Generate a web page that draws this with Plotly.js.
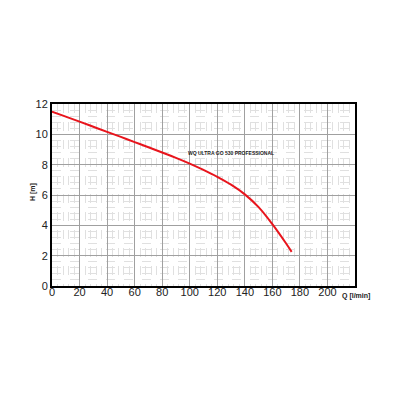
<!DOCTYPE html>
<html><head><meta charset="utf-8">
<script src="https://cdn.plot.ly/plotly-3.0.1.min.js"></script>
<style>html,body{margin:0;padding:0;background:#fff}#c{width:400px;height:400px}</style>
</head><body><div id="c"></div>
<script>
const flow = [0, 10, 20, 30, 40, 50, 60, 70, 80, 90, 100, 110, 120, 130, 140, 150, 160, 170, 174];
const head = [11.5, 11.17, 10.84, 10.5, 10.16, 9.83, 9.49, 9.15, 8.8, 8.45, 8.07, 7.65, 7.2, 6.68, 6.04, 5.2, 4.08, 2.8, 2.25];
const xTicks = [0, 20, 40, 60, 80, 100, 120, 140, 160, 180, 200];
const yTicks = [0, 2, 4, 6, 8, 10, 12];
const seriesName = "WQ ULTRA GO 530 PROFESSIONAL";

const trace = {x: flow, y: head, mode: 'lines', line: {color: '#e8141c', width: 2, shape: 'spline', smoothing: 1}, hoverinfo: 'skip'};
const layout = {
  width: 400, height: 400,
  margin: {l: 52, r: 45, t: 104, b: 114},
  paper_bgcolor: '#fff', plot_bgcolor: '#fff',
  showlegend: false,
  font: {family: 'Liberation Sans, Arial, sans-serif', color: '#222'},
  xaxis: {range: [0, 220], tickvals: xTicks, ticktext: xTicks.map(String), showgrid: true, gridcolor: '#a0a0a0', gridwidth: 1,
    minor: {dtick: 4, tick0: 0, showgrid: true, gridcolor: '#e0e0e0', gridwidth: 1, griddash: 'dash'},
    showline: true, linecolor: '#000', linewidth: 2, mirror: true, zeroline: false, ticks: '', ticklabelstandoff: -5, tickfont: {size: 11, color: '#222'}},
  yaxis: {range: [0, 12], tickvals: yTicks, ticktext: yTicks.map(String), showgrid: true, gridcolor: '#a0a0a0', gridwidth: 1,
    minor: {dtick: 0.4, tick0: 0, showgrid: true, gridcolor: '#e0e0e0', gridwidth: 1, griddash: 'dash'},
    showline: true, linecolor: '#000', linewidth: 2, mirror: true, zeroline: false, ticks: '', tickfont: {size: 11, color: '#222'}},
  annotations: [
    {x: 97, y: 8.75, xref: 'x', yref: 'y', text: '<b>' + seriesName + '</b>', showarrow: false, xanchor: 'left', font: {size: 5, color: '#222'}},
    {xref: 'paper', yref: 'paper', x: 0.952, y: 0, text: '<b>Q [l/min]</b>', showarrow: false, xanchor: 'left', yanchor: 'top', yshift: -4, font: {size: 7, color: '#222'}},
    {xref: 'paper', yref: 'paper', x: 0, y: 0.5, text: '<b>H [m]</b>', showarrow: false, textangle: -90, xanchor: 'center', xshift: -19, yshift: 3, font: {size: 7, color: '#222'}}
  ]
};
Plotly.newPlot('c', [trace], layout, {staticPlot: true, displayModeBar: false});
</script></body></html>
